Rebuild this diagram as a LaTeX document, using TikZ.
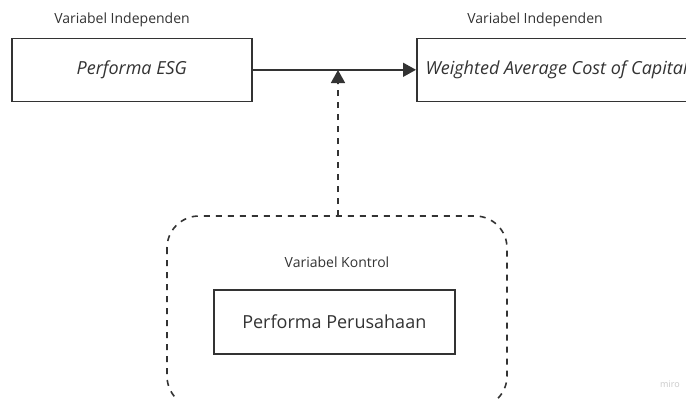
\documentclass[tikz,border=0pt]{standalone}
\usepackage{fontspec}
\setmainfont{Open Sans}
\usetikzlibrary{arrows.meta}
\definecolor{ink}{HTML}{333333}
\definecolor{wm}{HTML}{C8C8C8}
\begin{document}
\begin{tikzpicture}[x=1pt,y=-1pt,
  varbox/.style={draw=ink,line width=1.6pt,fill=white,inner sep=0pt},
  caption/.style={font=\fontsize{14}{16}\selectfont,text=ink},
  label/.style={text=ink,font=\fontsize{18}{21}\selectfont},
  flow/.style={draw=ink,line width=1.6pt,-{Triangle[length=13pt,width=14pt]}},
  dashflow/.style={draw=ink,line width=1.6pt,dash pattern=on 6pt off 6pt}]
\useasboundingbox (0,0) rectangle (686,399);
\begin{scope}
\clip (0,0) rectangle (686,399);
% dashed group around the control variable
\draw[dashflow,rounded corners=32pt] (167,216) rectangle (507,408);
\coordinate (grouptop) at (338,216);
% independent variable
\node[varbox,minimum width=240pt,minimum height=63pt,anchor=north west] (esg) at (11,37.5) {};
\node[label,font=\fontsize{18}{21}\selectfont\itshape] at (esg.center) {Performa ESG};
\node[caption] at (122,20) {Variabel Independen};
% dependent variable
\node[varbox,minimum width=300pt,minimum height=63pt,anchor=north west] (wacc) at (416,37.5) {};
\node[label,font=\fontsize{18}{21}\selectfont\itshape,anchor=west] at ([xshift=6pt]wacc.west) {Weighted Average Cost of Capital};
\node[caption] at (535,20) {Variabel Independen};
% control variable
\node[caption] at (337,262) {Variabel Kontrol};
\node[varbox,minimum width=241pt,minimum height=64pt,anchor=north west] (firm) at (213,289) {};
\node[label] at (firm.center) {Performa Perusahaan};
% connectors
\draw[flow] (esg.east) -- (wacc.west);
\coordinate (mid) at (338,70);
\draw[dashflow] (grouptop) -- (338,84);
\draw[flow] (338,83) -- (mid);
\node[text=wm,font=\fontsize{9}{10}\selectfont] at (670,384) {miro};
\end{scope}
\end{tikzpicture}
\end{document}
